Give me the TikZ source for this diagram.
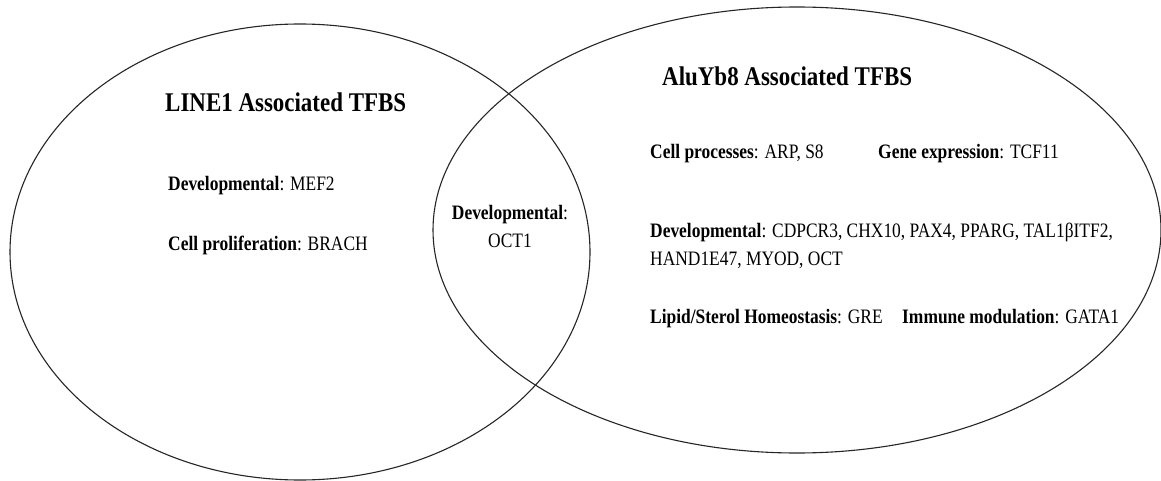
\documentclass[tikz,border=0pt]{standalone}
\usepackage{fontspec}
\setmainfont[FakeStretch=0.85]{Liberation Serif}
\begin{document}
\begin{tikzpicture}[x=1pt,y=-1pt,
  setline/.style={draw=black!85, line width=1.1pt},
  settitle/.style={font=\bfseries\fontsize{27}{32}\selectfont, anchor=base west, inner sep=0pt},
  item/.style={font=\fontsize{20.5}{28}\selectfont, anchor=base west, inner sep=0pt},
  citem/.style={font=\fontsize{20.5}{28}\selectfont, anchor=base, inner sep=0pt}]
\useasboundingbox (0,0) rectangle (1161,481);
\fill[white] (0,0) rectangle (1161,481);
% sets
\draw[setline] (300,252) ellipse [x radius=290pt, y radius=228pt];
\draw[setline] (797,230) ellipse [x radius=364pt, y radius=223pt];
% LINE1
\node[settitle] (lt) at (165,112) {LINE1 Associated TFBS};
\node[item] (l1) at (168,190) {\textbf{Developmental}: MEF2};
\node[item] (l2) at (168,250) {\textbf{Cell proliferation}: BRACH};
% shared
\node[citem] (m1) at (510,219) {\textbf{Developmental}:};
\node[citem] (m2) at (510,247) {OCT1};
% AluYb8
\node[settitle] (at) at (662,86) {AluYb8 Associated TFBS};
\node[item] (a1) at (650,159) {\textbf{Cell processes}: ARP, S8};
\node[item] (a2) at (878,159) {\textbf{Gene expression}: TCF11};
\node[item] (a3) at (650,237) {\textbf{Developmental}: CDPCR3, CHX10, PAX4, PPARG, TAL1βITF2,};
\node[item] (a4) at (650,265) {HAND1E47, MYOD, OCT};
\node[item] (a5) at (650,323) {\textbf{Lipid/Sterol Homeostasis}: GRE};
\node[item] (a6) at (902,323) {\textbf{Immune modulation}: GATA1};
\end{tikzpicture}
\end{document}
